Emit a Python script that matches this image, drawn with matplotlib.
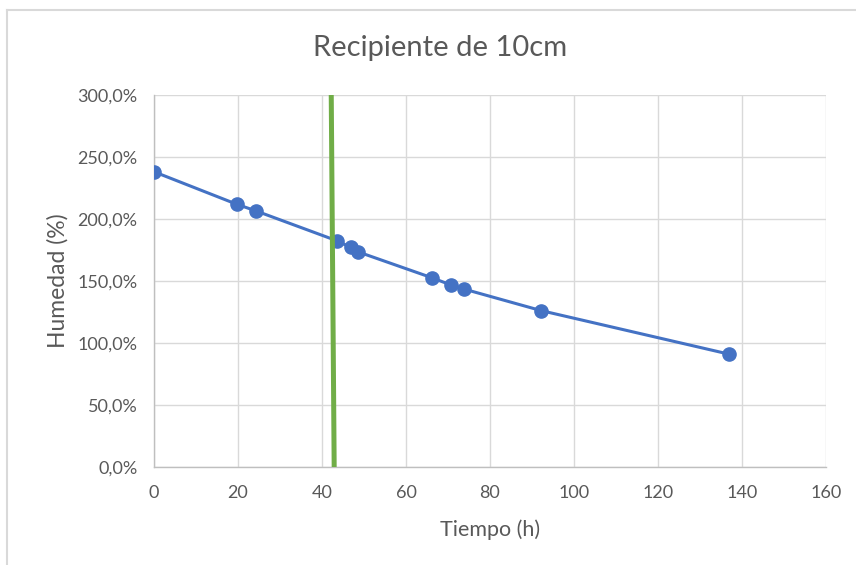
import matplotlib
matplotlib.use("Agg")
import matplotlib.pyplot as plt
from matplotlib.lines import Line2D
from matplotlib.ticker import FuncFormatter

# measured data (hours, humidity %)
tiempo = [0, 19.7, 24.3, 43.5, 46.8, 48.5, 66.1, 70.7, 73.8, 92.2, 136.8]
humedad = [238.1, 211.9, 206.5, 182.5, 177.2, 173.6, 152.7, 146.8, 143.5, 126.1, 91.1]

# green reference line end points
linea_x = [42.2, 42.9]
linea_y = [300, 0]

x_ticks = [0, 20, 40, 60, 80, 100, 120, 140, 160]
y_ticks = [0, 50, 100, 150, 200, 250, 300]

plt.rcParams['font.family'] = ['Lato', 'DejaVu Sans']

W, H = 856, 565
fig = plt.figure(figsize=(W / 100, H / 100), dpi=100)
ax = fig.add_axes([154 / W, 1 - 467 / H, (826 - 154) / W, (467 - 95) / H])

gray_txt = "#595959"
grid_c = "#D9D9D9"

ax.plot(tiempo, humedad, color="#4472C4", lw=2.2, marker="o", ms=9.5, zorder=3)
ax.plot(linea_x, linea_y, color="#70AD47", lw=3.6, zorder=4, solid_capstyle="butt")

ax.set_xlim(0, 160)
ax.set_ylim(0, 300)
ax.set_xticks(x_ticks)
ax.set_yticks(y_ticks)
ax.yaxis.set_major_formatter(FuncFormatter(lambda v, p: f"{v:.1f}%".replace(".", ",")))
ax.grid(True, color=grid_c, lw=1)
ax.set_axisbelow(True)

for s in ["top", "right"]:
    ax.spines[s].set_visible(False)
for s in ["left", "bottom"]:
    ax.spines[s].set_color("#BFBFBF")
    ax.spines[s].set_linewidth(1)
ax.tick_params(length=0, colors=gray_txt, labelsize=13)
ax.tick_params(axis="y", pad=12)
ax.tick_params(axis="x", pad=13)

fig.text(440 / W, 1 - 48 / H, "Recipiente de 10cm", fontsize=21, color=gray_txt,
         ha="center", va="center")
ax.set_xlabel("Tiempo (h)", fontsize=15.5, color=gray_txt, labelpad=13)
ax.set_ylabel("Humedad (%)", fontsize=16.5, color=gray_txt, labelpad=6)

# outer chart border (top and left edges visible)
fig.add_artist(Line2D([7 / W, 1], [1 - 10 / H, 1 - 10 / H], color=grid_c, lw=1.5, transform=fig.transFigure))
fig.add_artist(Line2D([7 / W, 7 / W], [0, 1 - 10 / H], color=grid_c, lw=1.5, transform=fig.transFigure))

fig.savefig("out.png", dpi=100)
